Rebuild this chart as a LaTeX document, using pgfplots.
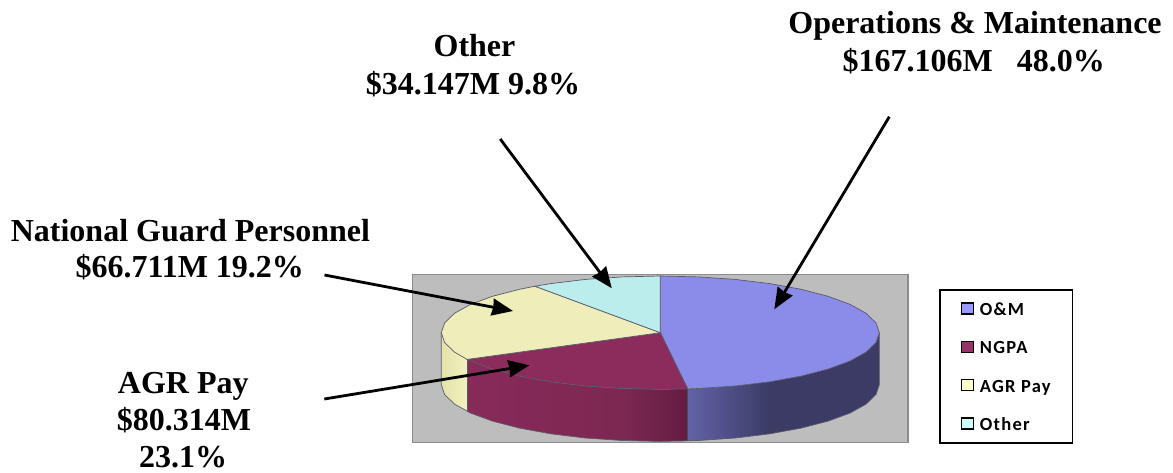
\documentclass[border=0pt]{standalone}
\usepackage{pgfplots}
\pgfplotsset{compat=1.18}
\usepackage{fontspec}
\setmainfont{Liberation Serif}
\newfontfamily\legfont[LetterSpace=7]{Carlito}
\usetikzlibrary{arrows.meta}
\definecolor{cOM}{HTML}{8B8BEA}
\definecolor{cNG}{HTML}{8B2C5C}
\definecolor{cAG}{HTML}{EFEDB9}
\definecolor{cOT}{HTML}{BBEDED}
\definecolor{edge}{HTML}{5A5A6A}
\definecolor{E1}{HTML}{E4E2AC}
\definecolor{E2}{HTML}{F2F0BC}
\definecolor{N1}{HTML}{882A5A}
\definecolor{N2}{HTML}{7C2852}
\definecolor{N3}{HTML}{631C42}
\definecolor{O1}{HTML}{6262A6}
\definecolor{O2}{HTML}{3B3B66}
\definecolor{L1}{HTML}{9999FF}
\definecolor{L2}{HTML}{993366}
\definecolor{L3}{HTML}{FFFFCC}
\definecolor{L4}{HTML}{CCFFFF}
\newcommand{\lab}[3]{\node[font=\fontsize{32}{34}\selectfont\bfseries,anchor=base,inner sep=0pt] at (axis cs:#1,#2) {#3};}
\tikzset{arr/.style={-{Stealth[length=21pt,width=17pt,inset=1pt]},line width=2.8pt,black}}
\begin{document}
\begin{tikzpicture}
\begin{axis}[
  scale only axis,width=1173pt,height=472pt,
  xmin=0,xmax=1173,ymin=0,ymax=472,y dir=reverse,
  hide axis,clip=false,
  legend style={at={(939.3/1173,1-289.3/472)},anchor=north west,draw=black,line width=1.4pt,
    font=\legfont\bfseries\fontsize{18.5}{18.5}\selectfont,
    row sep=19.3pt,column sep=5pt,inner xsep=20.5pt,inner ysep=9.6pt,
    nodes={inner sep=1pt,text height=15pt,text depth=2pt}},
  legend cell align=left,
  legend image code/.code={\draw[#1,line width=1.3pt,draw=black] (0pt,-5pt) rectangle (12pt,6pt);},
]
\path (axis cs:0,0) (axis cs:1173,472);
% background
\addplot[fill=black!26,draw=black!45,line width=1.4pt,forget plot] coordinates {(412.7,274.7)(908,274.7)(908,442.7)(412.7,442.7)} --cycle;
% side faces
\addplot[left color=E1,right color=E2,draw=none,forget plot] coordinates {(441.3,332.7)(444.6,342.5)(454.5,352.1)(467.1,359.4)(467.1,411.4)(454.5,404.1)(444.6,394.5)(441.3,384.7)} --cycle;
\addplot[left color=N1,right color=N2,draw=none,forget plot] coordinates {(467.1,359.4)(470.6,361.05)(492.5,369.1)(519.5,376.1)(550.8,381.8)(585.4,386)(622.3,388.5)(623,388.5)(623,440.5)(622.3,440.5)(585.4,438)(550.8,433.8)(519.5,428.1)(492.5,421.1)(470.6,413.05)(467.1,411.4)} --cycle;
\addplot[left color=N2,right color=N3,draw=none,forget plot] coordinates {(622.3,388.5)(660.3,389.4)(687.7,388.95)(687.7,440.95)(660.3,441.4)(622.3,440.5)} --cycle;
\addplot[left color=O1,right color=O2,draw=none,forget plot] coordinates {(687.7,388.95)(698.3,388.5)(735.2,386)(769.8,381.8)(770.3,381.7)(770.3,433.7)(769.8,433.8)(735.2,438)(698.3,440.5)(687.7,440.95)} --cycle;
\addplot[fill=O2,draw=none,forget plot] coordinates {(769.8,381.8)(801.1,376.1)(828.1,369.1)(850,361.05)(866.1,352.1)(876,342.5)(879.3,332.7)(879.3,384.7)(876,394.5)(866.1,404.1)(850,413.05)(828.1,421.1)(801.1,428.1)(769.8,433.8)} --cycle;
% outline of the side
\addplot[draw=edge,line width=0.7pt,forget plot] coordinates {(441.3,332.7)(441.3,384.7)(444.6,394.5)(454.5,404.1)(470.6,413.05)(492.5,421.1)(519.5,428.1)(550.8,433.8)(585.4,438)(622.3,440.5)(660.3,441.4)(698.3,440.5)(735.2,438)(769.8,433.8)(801.1,428.1)(828.1,421.1)(850,413.05)(866.1,404.1)(876,394.5)(879.3,384.7)(879.3,332.7)};
\addplot[draw=edge,line width=0.7pt,forget plot] coordinates {(467.1,359.4)(467.1,411.4)};
\addplot[draw=black!70,line width=0.7pt,forget plot] coordinates {(687.7,389)(687.7,441)};
% top faces
\addplot[fill=cOM,draw=edge,line width=0.7pt,forget plot] coordinates {(660.3,332.7)(660.3,276)(698.3,276.9)(735.2,279.4)(769.8,283.6)(801.1,289.3)(828.1,296.3)(850,304.35)(866.1,313.3)(876,322.9)(879.3,332.7)(876,342.5)(866.1,352.1)(850,361.05)(828.1,369.1)(801.1,376.1)(769.8,381.8)(735.2,386)(698.3,388.5)(687.7,388.95)} --cycle;
\addplot[fill=cNG,draw=edge,line width=0.7pt,forget plot] coordinates {(660.3,332.7)(687.7,388.95)(660.3,389.4)(622.3,388.5)(585.4,386)(550.8,381.8)(519.5,376.1)(492.5,369.1)(470.6,361.05)(467.1,359.4)} --cycle;
\addplot[fill=cAG,draw=edge,line width=0.7pt,forget plot] coordinates {(660.3,332.7)(467.1,359.4)(454.5,352.1)(444.6,342.5)(441.3,332.7)(444.6,322.9)(454.5,313.3)(470.6,304.35)(492.5,296.3)(519.5,289.3)(534.9,286.2)} --cycle;
\addplot[fill=cOT,draw=edge,line width=0.7pt,forget plot] coordinates {(660.3,332.7)(534.9,286.2)(550.8,283.6)(585.4,279.4)(622.3,276.9)(660.3,276)} --cycle;
% legend
\addlegendimage{fill=L1}\addlegendentry{O\&M}
\addlegendimage{fill=L2}\addlegendentry{NGPA}
\addlegendimage{fill=L3}\addlegendentry{AGR Pay}
\addlegendimage{fill=L4}\addlegendentry{Other}
% labels
\lab{975}{33.3}{Operations \& Maintenance}
\lab{973.7}{71.7}{\$167.106M\ \ \ 48.0\%}
\lab{474.5}{56}{Other}
\lab{473}{94.3}{\$34.147M 9.8\%}
\lab{190.4}{241}{National Guard Personnel}
\lab{189.8}{277.7}{\$66.711M 19.2\%}
\lab{183.3}{393.3}{AGR Pay}
\lab{184}{430.3}{\$80.314M}
\lab{183}{467.5}{23.1\%}
% arrows
\draw[arr] (axis cs:500.2,139) -- (axis cs:611.8,288.3);
\draw[arr] (axis cs:324.5,275) -- (axis cs:513,311);
\draw[arr] (axis cs:324.3,399) -- (axis cs:529.5,365.3);
\draw[arr] (axis cs:889.3,116.7) -- (axis cs:774.3,309.3);
\end{axis}
\end{tikzpicture}
\end{document}
